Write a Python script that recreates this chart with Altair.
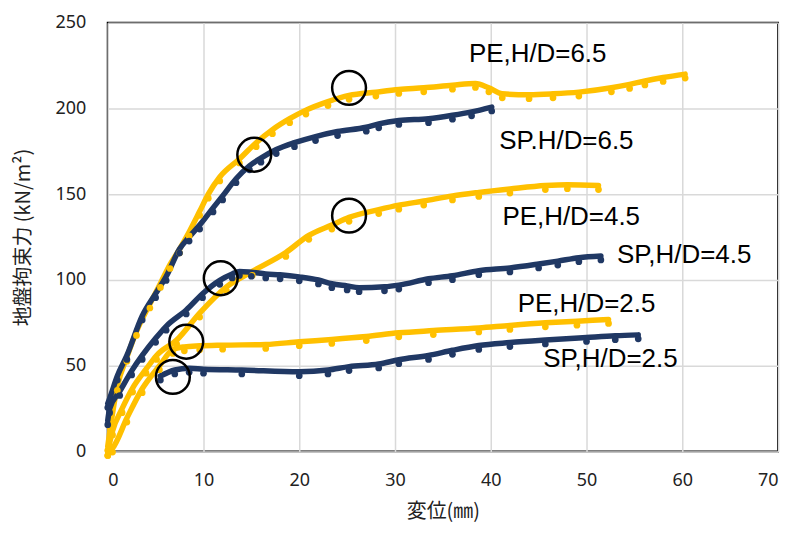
import altair as alt
import pandas as pd

# ---- data ----
pe65_x = [0, 0.3, 1, 2, 3, 4.4, 5.5, 6.5, 7.5, 8.5, 9.6, 10.5, 11.7, 13.75, 15.5, 17.2, 19, 20.7, 23, 25.2, 28, 30.4, 33, 36, 38.4, 39.8, 41.2, 44, 46.5, 49.2, 52.6, 54.5, 56.1, 58, 60.3]
pe65_y = [3, 15, 38, 55, 70, 86, 98, 109, 118, 128, 140, 150, 160, 170.5, 180, 187.6, 194, 199, 204, 207.6, 209.5, 211, 212, 213.5, 214.5, 212, 208.5, 208, 208.5, 209.5, 212, 214, 216, 218, 220]

sp65_x = [0, 0.2, 1, 2, 3.6, 5, 6.1, 7.5, 8.5, 9.6, 11, 12, 13.4, 14.8, 16, 17.6, 19.5, 21.7, 24, 27, 28.3, 30.4, 33.5, 36, 38, 40.1]
sp65_y = [28, 31, 44, 56, 79, 92, 102, 118, 125, 132, 142, 149, 159, 166.5, 171, 176, 180, 183.6, 186.5, 189, 191, 193, 194, 196, 198, 200.8]

pe45_x = [0, 0.5, 1.5, 2.6, 4, 5.1, 7.2, 9.6, 12.4, 15.1, 18.6, 21, 23.4, 25.2, 28.3, 30.4, 33, 36, 38.75, 42, 45.7, 48, 51.25]
pe45_y = [0, 12, 25, 37, 48, 56, 65, 80.7, 96, 105, 116, 126, 132, 136.5, 141, 143.6, 146, 149, 151, 153, 155, 155.5, 155]

sp45_x = [0, 0.2, 1.25, 2.5, 3.6, 5, 6.1, 8.2, 9.9, 11.7, 13, 13.75, 15, 16.5, 18, 20, 22, 23.4, 25, 26.25, 28.9, 30.4, 33.5, 36, 38.75, 42, 45, 47, 49.2, 51.5]
sp45_y = [18, 25, 35, 47, 56, 66, 73, 82.5, 92, 99.8, 103.5, 105, 104.5, 103.5, 103, 101.8, 100, 97.8, 96.5, 95.5, 96, 97, 100.7, 102.5, 105.4, 107, 109.3, 111, 113, 114]

pe25_x = [0, 0.5, 2, 3.6, 5.4, 6.8, 8, 9.6, 12, 16.5, 20, 23.4, 27, 30.4, 34, 38.75, 42, 45.7, 49, 52.3]
pe25_y = [0, 2, 19.5, 36.6, 50, 59.5, 61, 61.6, 62, 62.4, 64, 65.3, 67, 69.2, 70.5, 72, 73.5, 75, 76, 77]

sp25_x = [5.5, 7, 8.5, 10, 14, 20, 23, 25.2, 28.3, 30.4, 33.5, 36, 38.75, 42, 45.7, 50, 53, 55.4]
sp25_y = [44, 47.5, 48.5, 48, 47.5, 46.5, 47.5, 49.5, 51, 53.5, 56, 59, 61.8, 63.5, 65, 66.5, 67.5, 68]

circle_x = [15.3, 25.2, 25.2, 11.8, 8.2, 6.8]
circle_y = [173, 212, 137.5, 101, 64, 43.5]

label_text = ["PE,H/D=6.5", "SP.H/D=6.5", "PE,H/D=4.5", "SP,H/D=4.5", "PE,H/D=2.5", "SP,H/D=2.5"]
label_x = [44.9, 47.9, 48.4, 60.2, 50.0, 52.5]
label_y = [231.6, 180.8, 136.7, 114.4, 85.8, 53.8]

x_ticks = [0, 10, 20, 30, 40, 50, 60, 70]
y_ticks = [0, 50, 100, 150, 200, 250]

series = [
    ("PE65", "PE", pe65_x, pe65_y),
    ("SP65", "SP", sp65_x, sp65_y),
    ("PE45", "PE", pe45_x, pe45_y),
    ("SP45", "SP", sp45_x, sp45_y),
    ("PE25", "PE", pe25_x, pe25_y),
    ("SP25", "SP", sp25_x, sp25_y),
]
rows = []
for name, kind, xs, ys in series:
    for i, (xv, yv) in enumerate(zip(xs, ys)):
        rows.append({"series": name, "kind": kind, "x": xv, "y": yv, "i": i})
df = pd.DataFrame(rows)
circ = pd.DataFrame({"x": circle_x, "y": circle_y})
labs = pd.DataFrame({"t": label_text, "x": label_x, "y": label_y})

NAVY = "#203864"
GOLD = "#FFC000"

xs = alt.Scale(domain=[0, 70], nice=False)
ys = alt.Scale(domain=[0, 250], nice=False)
color = alt.Color("kind:N", scale=alt.Scale(domain=["PE", "SP"], range=[GOLD, NAVY]), legend=None)

x_axis = alt.Axis(values=x_ticks, title="変位(㎜)", grid=True, ticks=False, domain=False,
                  labelPadding=20, titlePadding=12)
y_axis = alt.Axis(values=y_ticks, title="地盤拘束力 (kN/m²)", grid=True, ticks=False, domain=False,
                  labelPadding=22, titlePadding=22)

lines = alt.Chart(df).mark_line(strokeWidth=5.5, strokeCap="round", strokeJoin="round",
                                interpolate="monotone").encode(
    x=alt.X("x:Q", scale=xs, axis=x_axis),
    y=alt.Y("y:Q", scale=ys, axis=y_axis),
    color=color,
    detail="series:N",
    order="i:Q",
)
pts = alt.Chart(df).mark_circle(size=45, opacity=1).encode(
    x=alt.X("x:Q", scale=xs),
    y=alt.Y("y:Q", scale=ys),
    color=color,
    yOffset=alt.value(4),
)
circles = alt.Chart(circ).mark_point(shape="circle", size=1150, filled=False, color="black",
                                     strokeWidth=2.5, opacity=1).encode(
    x=alt.X("x:Q", scale=xs),
    y=alt.Y("y:Q", scale=ys),
)
texts = alt.Chart(labs).mark_text(font="Liberation Sans", fontSize=26, color="black",
                                  align="center", baseline="middle").encode(
    x=alt.X("x:Q", scale=xs),
    y=alt.Y("y:Q", scale=ys),
    text="t:N",
)

chart = (lines + pts + circles + texts).properties(
    width=672, height=430,
    autosize=alt.AutoSizeParams(type="none"),
    padding={"left": 100, "top": 14, "right": 12, "bottom": 75},
    background="white",
).configure_view(
    stroke="black", strokeWidth=2
).configure_axis(
    gridColor="#d9d9d9", gridWidth=1.5,
    labelFont="Noto Sans", labelFontSize=18, labelColor="#222222",
    titleFont="Noto Sans CJK JP", titleFontSize=20, titleFontWeight="normal", titleColor="#222222",
)

chart.save("out.html", embed_options={"renderer": "svg", "actions": False})
